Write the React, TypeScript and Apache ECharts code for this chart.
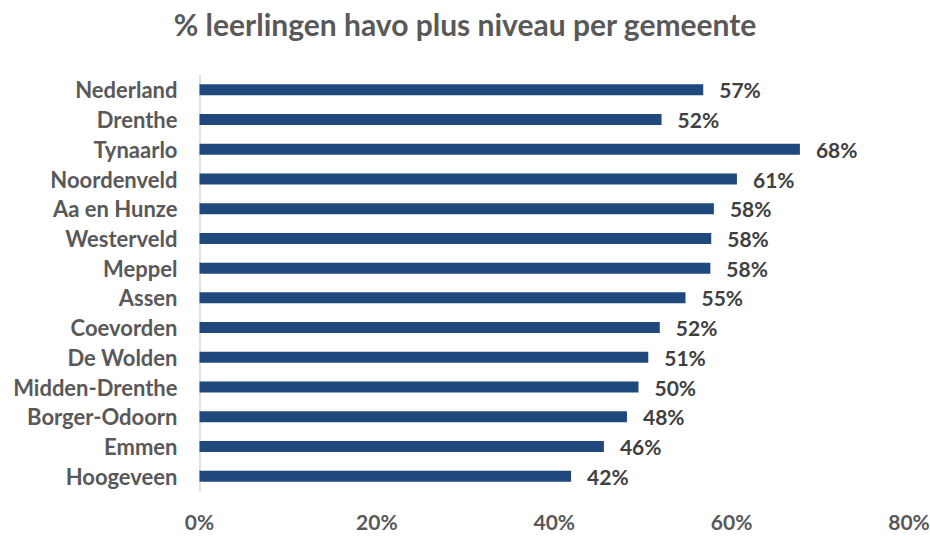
import React, { useEffect, useRef } from "react";
import * as echarts from "echarts";

const categories = [
  "Nederland",
  "Drenthe",
  "Tynaarlo",
  "Noordenveld",
  "Aa en Hunze",
  "Westerveld",
  "Meppel",
  "Assen",
  "Coevorden",
  "De Wolden",
  "Midden-Drenthe",
  "Borger-Odoorn",
  "Emmen",
  "Hoogeveen",
];
const values = [56.8, 52.1, 67.7, 60.6, 58.0, 57.7, 57.6, 54.8, 51.9, 50.6, 49.5, 48.2, 45.6, 41.9];
const xTicks = [0, 20, 40, 60, 80];
const title = "% leerlingen havo plus niveau per gemeente";

const FONT = "Lato, 'Open Sans', sans-serif";

export default function App() {
  const ref = useRef<HTMLDivElement>(null);
  useEffect(() => {
    if (!ref.current) return;
    const chart = echarts.init(ref.current, null, { renderer: "svg" });
    chart.setOption({
      animation: false,
      backgroundColor: "#ffffff",
      title: {
        text: title,
        left: "center",
        top: 4,
        textStyle: { fontFamily: FONT, fontSize: 30, fontWeight: "bold", color: "#595959" },
      },
      grid: {
        left: 199.5,
        right: 21,
        top: 75,
        bottom: 45,
        containLabel: false,
        outerBoundsMode: "none",
      },
      xAxis: {
        type: "value",
        min: xTicks[0],
        max: xTicks[xTicks.length - 1],
        interval: 20,
        axisLine: { show: false },
        axisTick: { show: false },
        splitLine: { show: false },
        axisLabel: {
          margin: 20,
          formatter: (v: number) => v + "%",
          fontFamily: FONT,
          fontSize: 21,
          fontWeight: "bold",
          color: "#595959",
        },
      },
      yAxis: {
        type: "category",
        data: categories,
        inverse: true,
        axisLine: { show: true, lineStyle: { color: "#d9d9d9", width: 1.5 } },
        axisTick: { show: false },
        axisLabel: {
          margin: 22,
          fontFamily: FONT,
          fontSize: 22,
          fontWeight: "bold",
          color: "#595959",
        },
      },
      series: [
        {
          type: "bar",
          data: values,
          barWidth: 11,
          itemStyle: { color: "#1f497d" },
          label: {
            show: true,
            position: "right",
            distance: 16,
            formatter: (p: any) => Math.round(p.value) + "%",
            fontFamily: FONT,
            fontSize: 21,
            fontWeight: "bold",
            color: "#404040",
          },
        },
      ],
    });
    return () => chart.dispose();
  }, []);
  return (
    <div
      ref={ref}
      style={{ position: "fixed", left: 0, top: 0, width: 930, height: 536 }}
    />
  );
}
